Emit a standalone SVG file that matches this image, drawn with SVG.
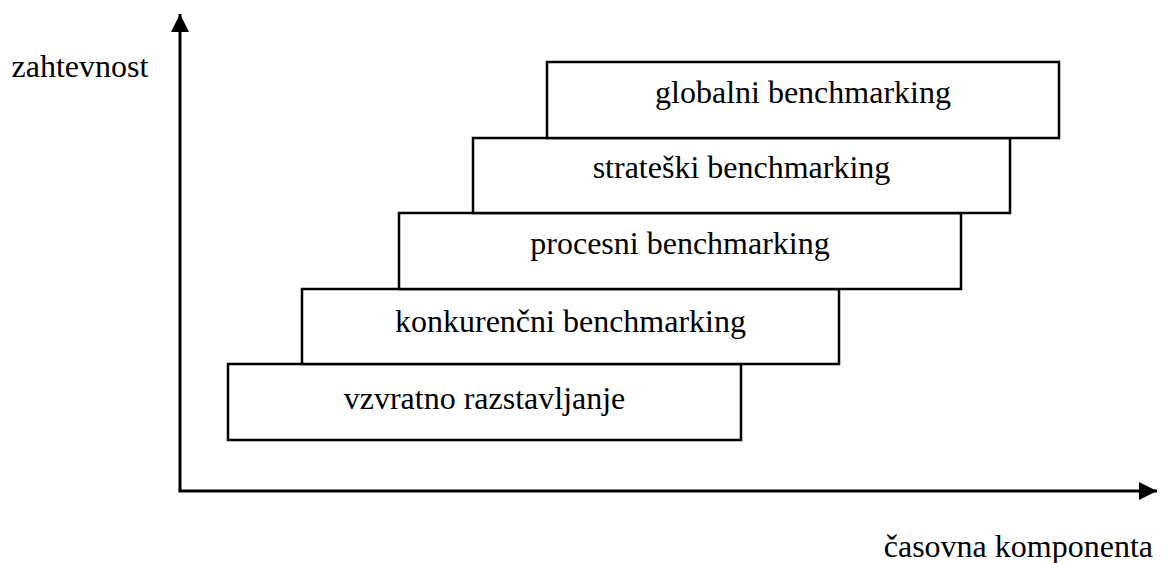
<svg xmlns="http://www.w3.org/2000/svg" width="1168" height="563" viewBox="0 0 1168 563">
<style>
.box{fill:#fff;stroke:#000;stroke-width:2.5}
.lbl{font-family:"Liberation Serif","Times New Roman",serif;font-size:32px;fill:#000}
.axis{stroke:#000;stroke-width:3;fill:none}
</style>
<defs>
<marker id="ah" markerUnits="userSpaceOnUse" markerWidth="20" markerHeight="18" refX="18" refY="9" orient="auto">
<path d="M0,0 L18,9 L0,18 Z" fill="#000"/>
</marker>
</defs>
<rect width="1168" height="563" fill="#fff"/>
<g id="connectors">
<path class="axis" d="M180,491 L180,14" marker-end="url(#ah)"/>
<path class="axis" d="M178.5,491 L1157,491" marker-end="url(#ah)"/>
</g>
<g id="n-vzvratno">
<rect class="box" x="228" y="364" width="513" height="76"/>
<text class="lbl" x="484.5" y="409" text-anchor="middle">vzvratno razstavljanje</text>
</g>
<g id="n-konkurencni">
<rect class="box" x="302" y="289" width="537" height="75"/>
<text class="lbl" x="570.5" y="332" text-anchor="middle">konkurenčni benchmarking</text>
</g>
<g id="n-procesni">
<rect class="box" x="399" y="213" width="562" height="76"/>
<text class="lbl" x="680" y="254" text-anchor="middle">procesni benchmarking</text>
</g>
<g id="n-strateski">
<rect class="box" x="473" y="138" width="537" height="75"/>
<text class="lbl" x="741.5" y="178" text-anchor="middle">strateški benchmarking</text>
</g>
<g id="n-globalni">
<rect class="box" x="547" y="62" width="512" height="76"/>
<text class="lbl" x="803" y="103" text-anchor="middle">globalni benchmarking</text>
</g>
<g id="axis-labels">
<text class="lbl" x="11.5" y="77">zahtevnost</text>
<text class="lbl" x="1153" y="557" text-anchor="end">časovna komponenta</text>
</g>
</svg>
